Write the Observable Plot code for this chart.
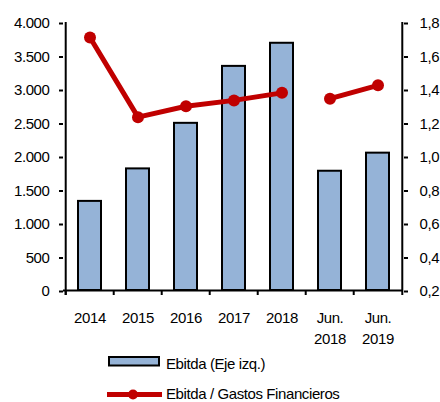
<!DOCTYPE html>
<html>
<head>
<meta charset="utf-8">
<script src="https://cdn.jsdelivr.net/npm/d3@7"></script>
<script src="https://cdn.jsdelivr.net/npm/@observablehq/plot@0.6"></script>
<style>
  html, body { margin: 0; padding: 0; background: #fff; }
  #wrap { position: relative; width: 440px; height: 402px; overflow: hidden; font-family: "Liberation Sans", Arial, sans-serif; }
  #wrap svg { display: block; }
  #legend { position: absolute; left: 0; top: 0; }
</style>
</head>
<body>
<div id="wrap"></div>
<script>
// ---- data ----
const categories = ["2014", "2015", "2016", "2017", "2018", "Jun.\n2018", "Jun.\n2019"];
const ebitda = [1330, 1815, 2495, 3345, 3690, 1780, 2050];
const ratio = [1.71, 1.235, 1.30, 1.335, 1.38, 1.345, 1.425];
const segment = ["a", "a", "a", "a", "a", "b", "b"];
const leftTicks = [0, 500, 1000, 1500, 2000, 2500, 3000, 3500, 4000];
const rightTicks = [0.2, 0.4, 0.6, 0.8, 1.0, 1.2, 1.4, 1.6, 1.8];
const seriesNames = ["Ebitda (Eje izq.)", "Ebitda / Gastos Financieros"];

// ---- derived ----
const toLeft = d3.scaleLinear().domain([0.2, 1.8]).range([0, 4000]);
const rows = categories.map((c, i) => ({cat: c, ebitda: ebitda[i], ratio: ratio[i], ratioL: toLeft(ratio[i]), seg: segment[i]}));

const W = 440, H = 402;
const mL = 63, mR = 37, mT = 22, mB = 112;
const halfStep = (W - mL - mR) / categories.length / 2;
const fmtLeft = d => d3.format(",")(d).replace(/,/g, ".");
const fmtRight = d => toLeft.invert(d).toFixed(1).replace(".", ",");
const axisColor = "#000";
const fontCss = "'Liberation Sans', Arial, sans-serif";

const chart = Plot.plot({
  width: W, height: H,
  marginLeft: mL, marginRight: mR, marginTop: mT, marginBottom: mB,
  style: {fontFamily: fontCss, fontSize: "15px", letterSpacing: "-0.4px", color: "#000", background: "#fff"},
  x: {type: "band", domain: categories, paddingInner: 0.53, paddingOuter: 0.265, axis: null},
  y: {domain: [0, 4000]},
  marks: [
    Plot.barY(rows, {x: "cat", y: "ebitda", fill: "#95B3D7", stroke: "#000", strokeWidth: 2}),
    Plot.ruleY([0], {stroke: axisColor, strokeWidth: 2}),
    Plot.ruleX(categories, {x: d => d, y1: 0, y2: -75, dx: -halfStep, stroke: axisColor, strokeWidth: 2}),
    Plot.ruleX([categories[0]], {x: d => d, y1: -75, y2: 4000, dx: -halfStep, stroke: axisColor, strokeWidth: 2}),
    Plot.ruleX([categories[categories.length - 1]], {x: d => d, y1: -75, y2: 4000, dx: halfStep, stroke: axisColor, strokeWidth: 2}),
    Plot.axisY(leftTicks, {anchor: "left", tickSize: 4, tickPadding: 10, tickFormat: fmtLeft, strokeWidth: 2, dy: 1}),
    Plot.axisY(rightTicks.map(toLeft), {anchor: "right", tickSize: 4, tickPadding: 12, tickFormat: fmtRight, strokeWidth: 2, dy: 1}),
    Plot.text(categories, {x: d => d, frameAnchor: "bottom", lineAnchor: "top", dy: 18, lineHeight: 1.4, text: d => d, fill: "#000"}),
    Plot.line(rows, {x: "cat", y: "ratioL", z: "seg", stroke: "#C00000", strokeWidth: 5}),
    Plot.dot(rows, {x: "cat", y: "ratioL", r: 6, fill: "#C00000"})
  ]
});

const wrap = document.getElementById("wrap");
wrap.appendChild(chart);

// ---- legend ----
const ns = "http://www.w3.org/2000/svg";
const leg = document.createElementNS(ns, "svg");
leg.setAttribute("id", "legend");
leg.setAttribute("width", 440);
leg.setAttribute("height", 402);
leg.style.fontFamily = fontCss;
leg.style.fontSize = "15px";
leg.style.letterSpacing = "-0.4px";
function el(tag, attrs) {
  const e = document.createElementNS(ns, tag);
  for (const k in attrs) e.setAttribute(k, attrs[k]);
  leg.appendChild(e);
  return e;
}
el("rect", {x: 109, y: 357, width: 50, height: 8.5, fill: "#95B3D7", stroke: "#000", "stroke-width": 2});
el("text", {x: 166, y: 368.5, fill: "#000"}).textContent = seriesNames[0];
el("line", {x1: 107, x2: 162, y1: 394.5, y2: 394.5, stroke: "#C00000", "stroke-width": 5});
el("circle", {cx: 133, cy: 394.5, r: 5, fill: "#C00000"});
el("text", {x: 166, y: 399, fill: "#000"}).textContent = seriesNames[1];
wrap.appendChild(leg);
</script>
</body>
</html>
